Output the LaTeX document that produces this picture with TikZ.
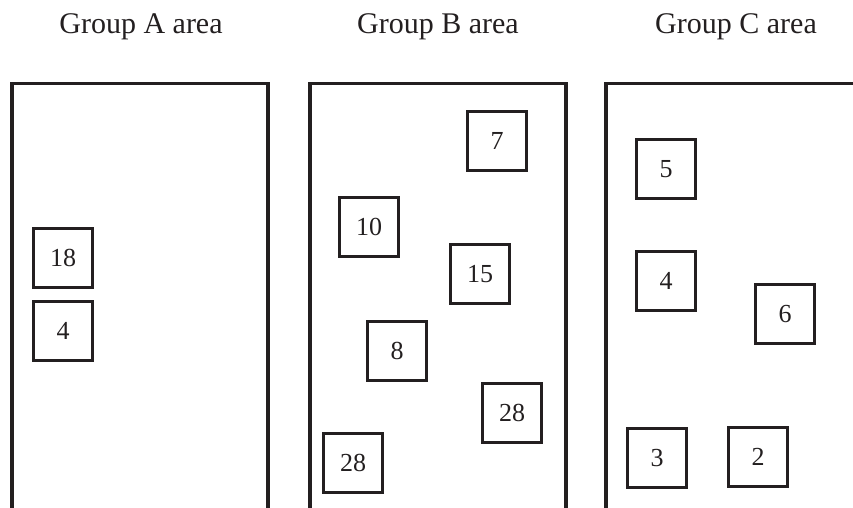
\documentclass[tikz,border=0pt]{standalone}
\usepackage{fontspec}
\setmainfont{Liberation Serif}
\definecolor{ink}{HTML}{231F20}
\begin{document}
\begin{tikzpicture}[x=1pt,y=-1pt,
  area/.style={draw=ink,line width=3.6pt},
  card/.style={draw=ink,line width=3.6pt,minimum width=59pt,minimum height=59pt,
    inner sep=0pt,text=ink,font=\fontsize{26}{26}\selectfont},
  title/.style={anchor=base,text=ink,font=\fontsize{30}{30}\selectfont}]
\useasboundingbox (0,0) rectangle (853,507);
\begin{scope}
\clip (0,0) rectangle (853,507);
% three areas, open at the bottom
\draw[area] (12,530) -- (12,83.5) -- (268,83.5) -- (268,530);
\draw[area] (310,530) -- (310,83.5) -- (566,83.5) -- (566,530);
\draw[area] (606,530) -- (606,83.5) -- (880,83.5);
\end{scope}
% headings
\node[title] (tA) at (141,33) {Group A area};
\node[title] (tB) at (438,33) {Group B area};
\node[title] (tC) at (736,33) {Group C area};
% group A
\node[card] (a18) at (63,258) {18};
\node[card] (a4) at (63,331) {4};
% group B
\node[card] (b7) at (497,141) {7};
\node[card] (b10) at (369,227) {10};
\node[card] (b15) at (480,274) {15};
\node[card] (b8) at (397,351) {8};
\node[card] (b28r) at (512,413) {28};
\node[card] (b28l) at (353,463) {28};
% group C
\node[card] (c5) at (666,169) {5};
\node[card] (c4) at (666,281) {4};
\node[card] (c6) at (785,314) {6};
\node[card] (c3) at (657,458) {3};
\node[card] (c2) at (758,457) {2};
\end{tikzpicture}
\end{document}
